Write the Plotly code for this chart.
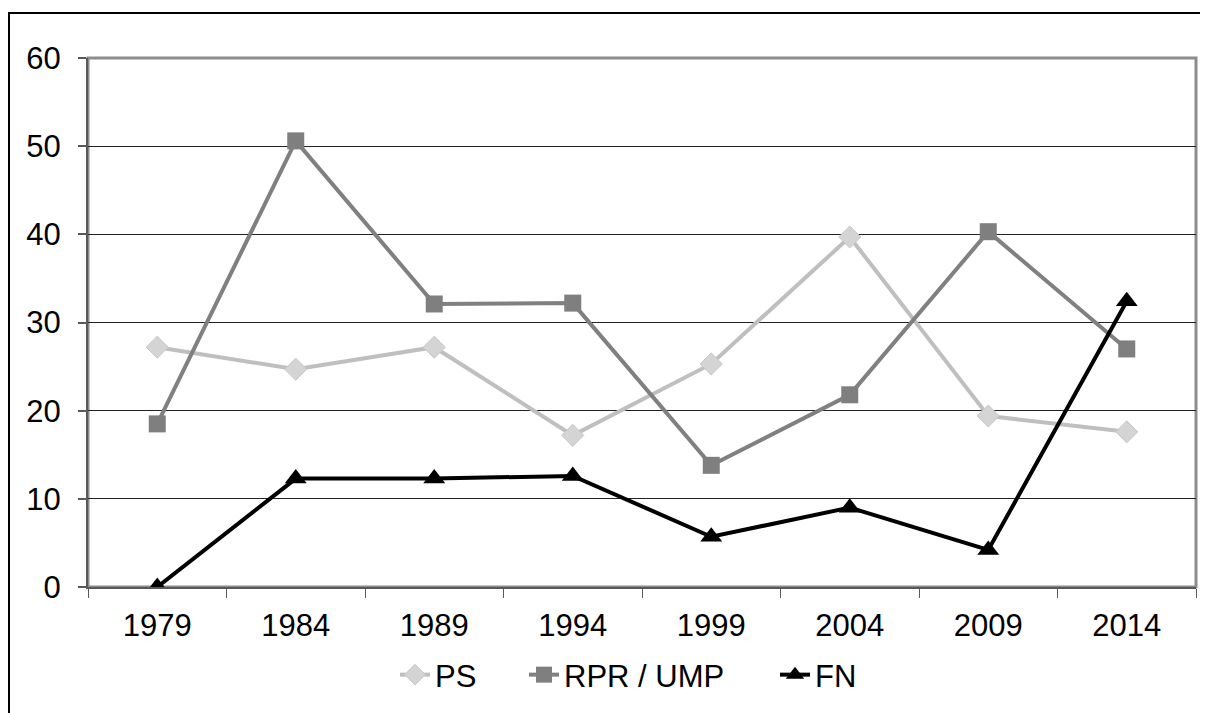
import plotly.graph_objects as go

years = ["1979", "1984", "1989", "1994", "1999", "2004", "2009", "2014"]
ps = [27.2, 24.7, 27.2, 17.2, 25.3, 39.7, 19.4, 17.6]
rpr_ump = [18.5, 50.6, 32.1, 32.2, 13.8, 21.8, 40.3, 27.0]
fn = [0.0, 12.3, 12.3, 12.6, 5.7, 9.0, 4.2, 32.4]
y_ticks = [0, 10, 20, 30, 40, 50, 60]

font = dict(family="Liberation Sans, Arial, sans-serif", size=31, color="#000000")

fig = go.Figure()
fig.add_trace(go.Scatter(x=years, y=ps, name="PS", mode="lines+markers",
                         line=dict(color="#bfbfbf", width=4),
                         marker=dict(symbol="diamond", size=17, color="#d4d4d4",
                                     line=dict(color="#c8c8c8", width=1)),
                         legend="legend"))
fig.add_trace(go.Scatter(x=years, y=rpr_ump, name="RPR / UMP", mode="lines+markers",
                         line=dict(color="#808080", width=4),
                         marker=dict(symbol="square", size=17, color="#7f7f7f"),
                         legend="legend2"))
fig.add_trace(go.Scatter(x=years, y=fn, name="FN", mode="lines+markers",
                         line=dict(color="#000000", width=4),
                         marker=dict(symbol="triangle-up", size=19, color="#000000"),
                         legend="legend3"))

W, L, H = 1108, 80, 705


def leg(marker_page_x):
    left = marker_page_x + 17 - 8 - 25
    return dict(orientation="h", x=(left - L) / W, xanchor="left",
                yref="container", y=(H - 667) / H, yanchor="middle",
                font=font, bgcolor="rgba(0,0,0,0)")


fig.update_layout(
    width=1200, height=H,
    margin=dict(l=80, r=12, t=50, b=126, autoexpand=False),
    paper_bgcolor="white", plot_bgcolor="white",
    font=font,
    showlegend=True,
    legend=leg(403),
    legend2=leg(532),
    legend3=leg(783),
    xaxis=dict(type="category", categoryorder="array", categoryarray=years,
               showgrid=False, showline=True, linecolor="#595959", linewidth=2,
               ticks="outside", ticklen=9, tickwidth=1, tickcolor="#595959",
               tickson="boundaries", tickfont=font, zeroline=False,
               range=[-0.5, 7.5], ticklabelstandoff=10, automargin=False),
    yaxis=dict(range=[0, 60], tickvals=y_ticks, showgrid=True, gridcolor="#222222",
               gridwidth=1, showline=True, linecolor="#595959", linewidth=2,
               ticks="outside", ticklen=8, tickwidth=2, tickcolor="#595959",
               tickfont=font, zeroline=False, ticklabelstandoff=11, automargin=False),
    shapes=[
        dict(type="rect", xref="paper", yref="paper", x0=0, x1=1, y0=0, y1=1,
             line=dict(color="#8c8c8c", width=3), layer="below"),
        dict(type="rect", xref="paper", yref="paper", x0=-79 / W, x1=1.03,
             y0=-0.3, y1=1.085, line=dict(color="#000000", width=2), layer="below"),
    ],
)

fig.write_html("out.html")
